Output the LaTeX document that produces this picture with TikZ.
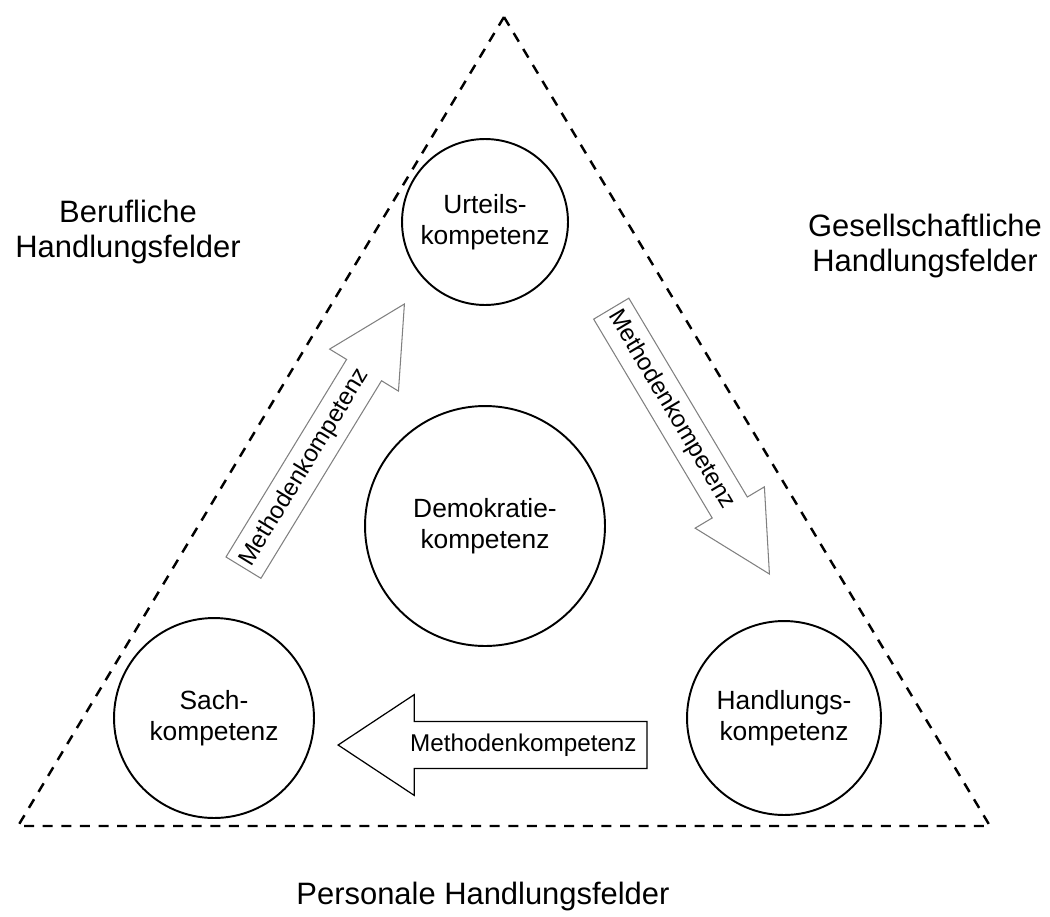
\documentclass[tikz,border=0pt]{standalone}
\usepackage{fontspec}
\setmainfont{Liberation Sans}
\usepackage{tikz}
\usetikzlibrary{calc, shapes.arrows, positioning}

\begin{document}
\begin{tikzpicture}[x=0.02cm, y=-0.02cm]
    % Block styles
    \tikzstyle{kompetenz} = [circle, draw, line width=1.1pt, align=center, inner sep=0pt, font=\fontsize{15}{17.6}\selectfont]
    \tikzstyle{feld} = [align=center, font=\fontsize{17.6}{20.3}\selectfont]
    \tikzstyle{methode} = [single arrow, draw, anchor=tip, text height=10pt, text depth=3pt, inner xsep=0pt, minimum height=6.18cm]
    \tikzstyle{methode_text} = [inner sep=0pt, font=\fontsize{13.8}{15}\selectfont]
    \useasboundingbox (0,0) rectangle (1050,916);
    % Dashed triangle
    \coordinate (apex) at (504,17);
    \coordinate (baseleft) at (18,826);
    \coordinate (baseright) at (990,826);
    \draw[line width=1.4pt, dash pattern=on 5.7pt off 4.9pt] (apex) -- (baseleft) -- (baseright) -- cycle;
    % Competences
    \node[kompetenz, minimum size=3.32cm] (urteil) at (485,222) {Urteils-\\kompetenz};
    \node[kompetenz, minimum size=4.8cm] (demokratie) at (485,526) {Demokratie-\\kompetenz};
    \node[kompetenz, minimum size=4cm] (sach) at (214,718) {Sach-\\kompetenz};
    \node[kompetenz, minimum size=3.88cm] (handlung) at (784,718) {Handlungs-\\kompetenz};
    % Method arrows
    \node[methode, draw=gray, line width=0.6pt, rotate=58.6, inner ysep=4.85pt, single arrow head extend=11.3pt, single arrow tip angle=55] (mk_left) at (405,303) {};
    \node[methode, draw=gray, line width=0.6pt, rotate=-59.2, inner ysep=4.85pt, single arrow head extend=11.3pt, single arrow tip angle=55] (mk_right) at (770,575) {};
    \node[methode, line width=0.7pt, shape border rotate=180, inner ysep=6.5pt, single arrow head extend=15.3pt, single arrow tip angle=67] (mk_bottom) at (337,745) {};
    \node[methode_text, rotate=58.6] (mk_left_text) at ($(mk_left.tail)!0.38!(mk_left.tip)$) {Methodenkompetenz};
    \node[methode_text, rotate=-59.2] (mk_right_text) at ($(mk_right.tail)!0.38!(mk_right.tip)$) {Methodenkompetenz};
    \node[methode_text] (mk_bottom_text) at ($(mk_bottom.tail)!0.40!(mk_bottom.tip)$) {Methodenkompetenz};
    % Fields of action
    \node[feld] (beruflich) at (128,232) {Berufliche\\Handlungsfelder};
    \node[feld] (gesellschaft) at (925,246) {Gesellschaftliche\\Handlungsfelder};
    \node[feld, anchor=base] (personal) at (483,904) {Personale Handlungsfelder};
\end{tikzpicture}
\end{document}
